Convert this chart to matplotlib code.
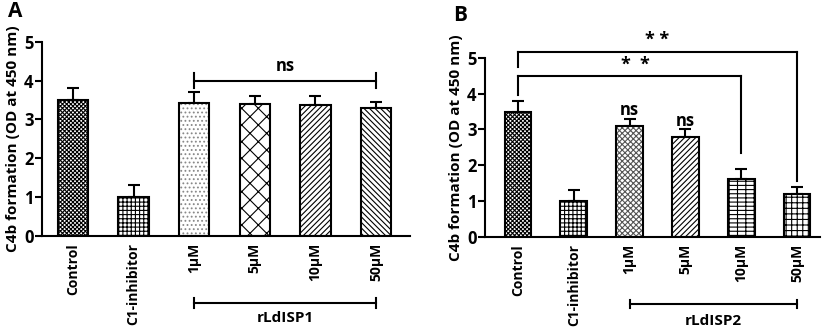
import matplotlib
matplotlib.use('Agg')
import matplotlib.pyplot as plt

plt.rcParams['font.family'] = ['Open Sans', 'DejaVu Sans']
plt.rcParams['font.weight'] = 'bold'
plt.rcParams['hatch.linewidth'] = 0.8

# Data
groups = ['Control', 'C1-inhibitor', '1\u00b5M', '5\u00b5M', '10\u00b5M', '50\u00b5M']
vals_a = [3.5, 1.0, 3.42, 3.4, 3.38, 3.3]
err_a = [0.3, 0.3, 0.28, 0.2, 0.22, 0.15]
vals_b = [3.5, 1.0, 3.1, 2.8, 1.62, 1.2]
err_b = [0.3, 0.3, 0.2, 0.2, 0.28, 0.2]

hatch_a = ['xxxxxxxx', '++++', '....', 'xx', '//////', '\\\\\\\\\\\\']
hcol_a = ['black', 'black', '#888888', 'black', 'black', 'black']
hatch_b = ['xxxxxxxx', '++++', 'xxxxxx', '//////', '----||', '+++']
hcol_b = ['black', 'black', '#555555', 'black', 'black', 'black']

ylabel = 'C4b formation (OD at 450 nm)'

fig = plt.figure(figsize=(8.27, 3.35), dpi=100)
axA = fig.add_axes([0.0508, 0.2955, 0.445, 0.58])
axB = fig.add_axes([0.5865, 0.2925, 0.405, 0.535])


def draw_panel(ax, vals, errs, hatches, hcols, width, xlim):
    x = range(len(vals))
    for i in x:
        ax.bar(i, vals[i], width, color='white', edgecolor=hcols[i],
               hatch=hatches[i], linewidth=0, zorder=2)
        ax.bar(i, vals[i], width, color='none', edgecolor='black',
               linewidth=1.5, zorder=3)
        ax.errorbar(i, vals[i], yerr=[[0], [errs[i]]], fmt='none',
                    ecolor='black', elinewidth=1.5, capsize=4, capthick=1.5,
                    zorder=1)
    ax.set_xlim(*xlim)
    ax.set_ylim(0, 5)
    ax.set_yticks([0, 1, 2, 3, 4, 5])
    ax.set_xticks(list(x))
    ax.set_xticklabels(groups, rotation=90, fontsize=10, fontweight='bold')
    ax.tick_params(axis='x', length=0, pad=5)
    ax.tick_params(axis='y', length=5, width=1.5, labelsize=12, pad=1)
    for lab in ax.get_yticklabels():
        lab.set_fontweight('bold')
    ax.spines['top'].set_visible(False)
    ax.spines['right'].set_visible(False)
    ax.spines['left'].set_linewidth(1.5)
    ax.spines['bottom'].set_linewidth(1.5)
    ax.set_ylabel(ylabel, fontsize=11, fontweight='bold', labelpad=3)


draw_panel(axA, vals_a, err_a, hatch_a, hcol_a, 0.5, (-0.51, 5.56))
draw_panel(axB, vals_b, err_b, hatch_b, hcol_b, 0.48, (-0.59, 5.41))

lk = dict(color='black', linewidth=1.5, clip_on=False)

# Panel A: ns bracket
axA.plot([2, 5], [4.0, 4.0], **lk)
axA.plot([2, 2], [3.8, 4.2], **lk)
axA.plot([5, 5], [3.8, 4.2], **lk)
axA.text(3.5, 4.15, 'ns', ha='center', va='bottom', fontsize=12, fontweight='bold')

# Panel B: significance brackets
axB.plot([0, 5], [5.17, 5.17], **lk)
axB.plot([0, 0], [4.75, 5.17], **lk)
axB.plot([5, 5], [1.55, 5.17], **lk)
axB.text(2.5, 5.25, '* *', ha='center', va='bottom', fontsize=13, fontweight='bold')
axB.plot([0, 4], [4.5, 4.5], **lk)
axB.plot([0, 0], [3.97, 4.5], **lk)
axB.plot([4, 4], [2.35, 4.5], **lk)
axB.text(2.1, 4.55, '*  *', ha='center', va='bottom', fontsize=13, fontweight='bold')
axB.text(2, 3.28, 'ns', ha='center', va='bottom', fontsize=12, fontweight='bold')
axB.text(3, 2.98, 'ns', ha='center', va='bottom', fontsize=12, fontweight='bold')

# group brackets below the axes
for ax, name, yb, yt in [(axA, 'rLdISP1', -1.72, -2.12), (axB, 'rLdISP2', -1.87, -2.33)]:
    ax.plot([2, 5], [yb, yb], **lk)
    ax.plot([2, 2], [yb - 0.12, yb + 0.12], **lk)
    ax.plot([5, 5], [yb - 0.12, yb + 0.12], **lk)
    ax.text(3.5, yt, name, ha='center', va='center', fontsize=11, fontweight='bold')

fig.text(0.010, 0.965, 'A', fontsize=15, fontweight='bold', ha='left', va='center')
fig.text(0.548, 0.955, 'B', fontsize=15, fontweight='bold', ha='left', va='center')

fig.savefig('out.png', dpi=100)
